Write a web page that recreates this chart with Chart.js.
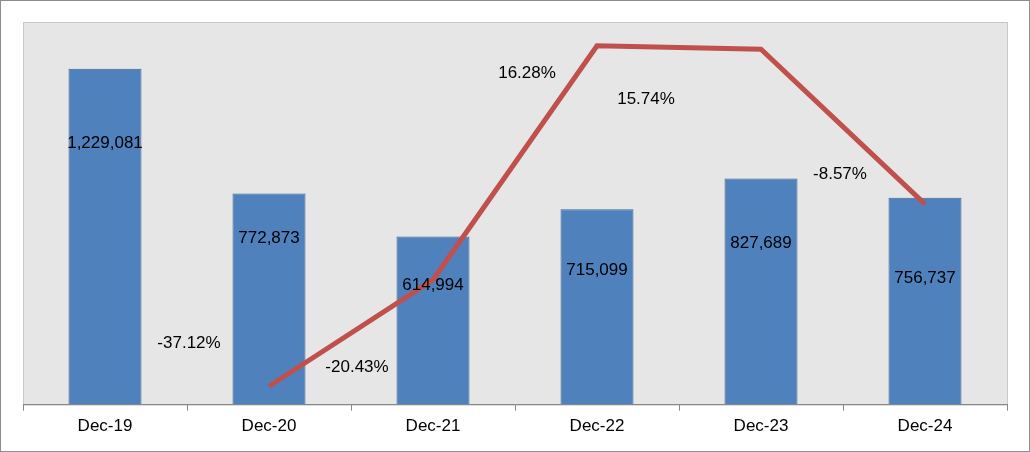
<!DOCTYPE html>
<html><head><meta charset="utf-8">
<script src="https://cdn.jsdelivr.net/npm/chart.js@4/dist/chart.umd.min.js"></script>
<style>html,body{margin:0;padding:0;background:#fff}#w{width:1028px;height:450px;border:1px solid #8c8c8c;position:relative}</style>
</head><body><div id="w"><canvas id="c" width="1028" height="450"></canvas></div>
<script>
const categories=["Dec-19","Dec-20","Dec-21","Dec-22","Dec-23","Dec-24"];
const barValues=[1229081,772873,614994,715099,827689,756737];
const growth=[null,-37.12,-20.43,16.28,15.74,-8.57];
const barLabelDy=[75,45,49,61,65,81];
const lineLabelD=[null,[-80,-43],[-76,88],[-70,28],[-115,50],[-85,-30]];
const fmt=n=>n.toLocaleString('en-US');
const plug={id:'p',
beforeDraw(ch){const a=ch.chartArea,c=ch.ctx;c.save();c.fillStyle='#e6e6e6';c.fillRect(a.left,a.top,a.right-a.left,a.bottom-a.top);c.strokeStyle='#c8c8c8';c.strokeRect(a.left+.5,a.top+.5,a.right-a.left,a.bottom-a.top);c.restore();},
afterDraw(ch){const c=ch.ctx;c.save();c.font='17px "Liberation Sans", Arial';c.fillStyle='#000';c.textAlign='center';c.textBaseline='middle';
ch.getDatasetMeta(0).data.forEach((b,i)=>c.fillText(fmt(barValues[i]),b.x,b.y+barLabelDy[i]));
ch.getDatasetMeta(1).data.forEach((p,i)=>{if(growth[i]==null)return;c.fillText(growth[i].toFixed(2)+'%',p.x+lineLabelD[i][0],p.y+lineLabelD[i][1]);});
c.restore();}};
new Chart(document.getElementById('c'),{
data:{labels:categories,datasets:[
{type:'bar',data:barValues,backgroundColor:'#4f81bd',borderColor:'#3a6496',borderWidth:1,barPercentage:0.445,categoryPercentage:1,yAxisID:'y',order:2},
{type:'line',data:growth,borderColor:'#c0504d',borderWidth:5,pointRadius:0,yAxisID:'y2',order:1,spanGaps:false}
]},
options:{responsive:false,animation:false,layout:{padding:{left:22,right:22,top:21,bottom:8}},
plugins:{legend:{display:false},tooltip:{enabled:false}},
scales:{
x:{offset:true,grid:{display:true,drawOnChartArea:false,offset:true,tickLength:6,color:'#888'},border:{color:'#888'},ticks:{color:'#000',font:{size:17,family:'"Liberation Sans", Arial'},padding:6}},
y:{display:false,min:0,max:1400000},
y2:{display:false,min:-40,max:20}
}},
plugins:[plug]});
</script></body></html>
